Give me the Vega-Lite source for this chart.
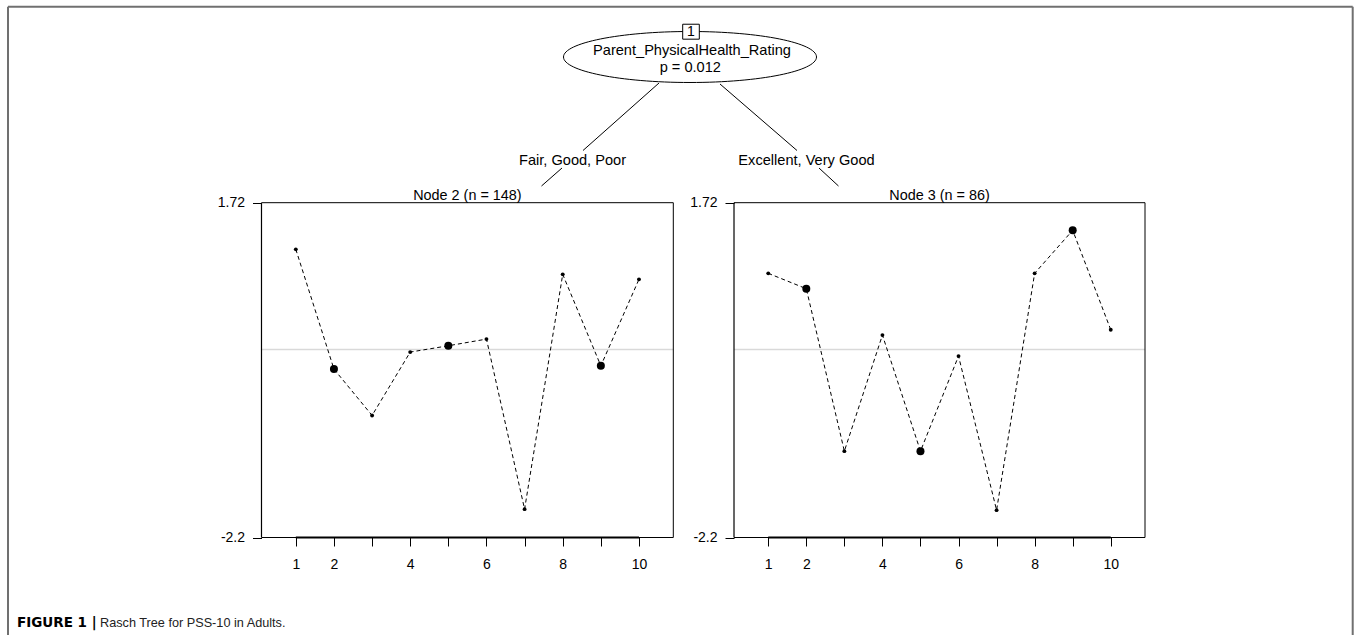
{
  "$schema": "https://vega.github.io/schema/vega-lite/v6.json",
  "width": 1356,
  "height": 635,
  "autosize": {"type": "none"},
  "padding": 0,
  "background": "white",
  "config": {"view": {"stroke": null}, "font": "Liberation Sans"},
  "datasets": {
    "difficulties": [
      {"node": 2, "item": 1, "difficulty": 1.174, "highlight": "no"},
      {"node": 2, "item": 2, "difficulty": -0.228, "highlight": "yes"},
      {"node": 2, "item": 3, "difficulty": -0.771, "highlight": "no"},
      {"node": 2, "item": 4, "difficulty": -0.029, "highlight": "no"},
      {"node": 2, "item": 5, "difficulty": 0.045, "highlight": "yes"},
      {"node": 2, "item": 6, "difficulty": 0.123, "highlight": "no"},
      {"node": 2, "item": 7, "difficulty": -1.868, "highlight": "no"},
      {"node": 2, "item": 8, "difficulty": 0.881, "highlight": "no"},
      {"node": 2, "item": 9, "difficulty": -0.19, "highlight": "yes"},
      {"node": 2, "item": 10, "difficulty": 0.823, "highlight": "no"},
      {"node": 3, "item": 1, "difficulty": 0.893, "highlight": "no"},
      {"node": 3, "item": 2, "difficulty": 0.713, "highlight": "yes"},
      {"node": 3, "item": 3, "difficulty": -1.189, "highlight": "no"},
      {"node": 3, "item": 4, "difficulty": 0.17, "highlight": "no"},
      {"node": 3, "item": 5, "difficulty": -1.189, "highlight": "yes"},
      {"node": 3, "item": 6, "difficulty": -0.076, "highlight": "no"},
      {"node": 3, "item": 7, "difficulty": -1.88, "highlight": "no"},
      {"node": 3, "item": 8, "difficulty": 0.893, "highlight": "no"},
      {"node": 3, "item": 9, "difficulty": 1.397, "highlight": "yes"},
      {"node": 3, "item": 10, "difficulty": 0.232, "highlight": "no"}
    ],
    "nodes": [
      {"node": 2, "label": "Node 2 (n = 148)"},
      {"node": 3, "label": "Node 3 (n = 86)"}
    ],
    "tree": [
      {"part": "id", "text": "1"},
      {"part": "variable", "text": "Parent_PhysicalHealth_Rating"},
      {"part": "pvalue", "text": "p = 0.012"},
      {"part": "leftEdge", "text": "Fair, Good, Poor"},
      {"part": "rightEdge", "text": "Excellent, Very Good"},
      {"part": "captionLabel", "text": "FIGURE 1 |"},
      {"part": "captionText", "text": "Rasch Tree for PSS-10 in Adults."}
    ]
  },
  "layer": [
    {
      "layer": [
        {
          "data": {"name": "nodes"},
          "transform": [{"filter": "datum.node == 2"}],
          "mark": {"type": "rule", "stroke": "#d9d9d9", "strokeWidth": 1.5},
          "encoding": {
            "x": {"datum": 0.1, "type": "quantitative", "scale": {"domain": [0.1, 10.9], "range": [261.5, 673.3], "nice": false, "zero": false}},
            "x2": {"datum": 10.9},
            "y": {"datum": 0, "type": "quantitative", "scale": {"domain": [-2.2, 1.72], "range": [537.5, 202.7], "nice": false, "zero": false}}
          }
        },
        {
          "data": {"name": "nodes"},
          "transform": [{"filter": "datum.node == 2"}],
          "mark": {"type": "rule", "stroke": "black", "strokeWidth": 1},
          "encoding": {
            "x": {"datum": 0.1, "type": "quantitative", "scale": {"domain": [0.1, 10.9], "range": [261.5, 673.3], "nice": false, "zero": false}},
            "x2": {"datum": 10.9},
            "y": {"datum": 1.72, "type": "quantitative", "scale": {"domain": [-2.2, 1.72], "range": [537.5, 202.7], "nice": false, "zero": false}}
          }
        },
        {
          "data": {"name": "nodes"},
          "transform": [{"filter": "datum.node == 2"}],
          "mark": {"type": "rule", "stroke": "black", "strokeWidth": 1},
          "encoding": {
            "x": {"datum": 10.9, "type": "quantitative", "scale": {"domain": [0.1, 10.9], "range": [261.5, 673.3], "nice": false, "zero": false}},
            "y": {"datum": -2.2, "type": "quantitative", "scale": {"domain": [-2.2, 1.72], "range": [537.5, 202.7], "nice": false, "zero": false}},
            "y2": {"datum": 1.72}
          }
        },
        {
          "data": {"name": "nodes"},
          "transform": [{"filter": "datum.node == 2"}],
          "mark": {"type": "rule", "stroke": "black", "strokeWidth": 2},
          "encoding": {
            "x": {"datum": 1, "type": "quantitative", "scale": {"domain": [0.1, 10.9], "range": [261.5, 673.3], "nice": false, "zero": false}},
            "x2": {"datum": 10},
            "y": {"datum": -2.2, "type": "quantitative", "scale": {"domain": [-2.2, 1.72], "range": [537.5, 202.7], "nice": false, "zero": false}}
          }
        },
        {
          "data": {"name": "difficulties"},
          "transform": [{"filter": "datum.node == 2"}],
          "mark": {"type": "line", "stroke": "black", "strokeWidth": 1, "strokeDash": [4, 3]},
          "encoding": {
            "x": {"field": "item", "type": "quantitative", "scale": {"domain": [0.1, 10.9], "range": [261.5, 673.3], "nice": false, "zero": false},
              "axis": {"orient": "bottom", "offset": -97.5, "values": [1, 2, 3, 4, 5, 6, 7, 8, 9, 10], "format": "d", "labelExpr": "indexof([1,2,4,6,8,10], datum.value) >= 0 ? format(datum.value, 'd') : ''", "domain": false, "grid": false, "ticks": true, "tickSize": 8.5, "tickColor": "black", "tickWidth": 1, "labelFontSize": 14, "labelColor": "black", "labelPadding": 11, "labelFlush": false, "labelOverlap": false, "labelFont": "Liberation Sans", "title": null}},
            "y": {"field": "difficulty", "type": "quantitative", "scale": {"domain": [-2.2, 1.72], "range": [537.5, 202.7], "nice": false, "zero": false},
              "axis": {"orient": "left", "offset": -261.5, "values": [-2.2, 1.72], "labelExpr": "replace(format(datum.value, '.2~f'), '\u2212', '-')", "domain": false, "grid": false, "ticks": true, "tickSize": 9, "tickColor": "black", "tickWidth": 1, "labelFontSize": 14, "labelColor": "black", "labelPadding": 8, "labelFlush": false, "labelOverlap": false, "labelFont": "Liberation Sans", "title": null}},
            "order": {"field": "item", "type": "quantitative"}
          }
        },
        {
          "data": {"name": "difficulties"},
          "transform": [{"filter": "datum.node == 2"}],
          "mark": {"type": "circle", "color": "black", "opacity": 1},
          "encoding": {
            "x": {"field": "item", "type": "quantitative", "scale": {"domain": [0.1, 10.9], "range": [261.5, 673.3], "nice": false, "zero": false}},
            "y": {"field": "difficulty", "type": "quantitative", "scale": {"domain": [-2.2, 1.72], "range": [537.5, 202.7], "nice": false, "zero": false}},
            "size": {"field": "highlight", "type": "ordinal", "scale": {"domain": ["no", "yes"], "range": [15, 64]}, "legend": null}
          }
        },
        {
          "data": {"name": "nodes"},
          "transform": [{"filter": "datum.node == 2"}],
          "mark": {"type": "text", "fontSize": 14.4, "align": "center", "baseline": "alphabetic", "color": "black"},
          "encoding": {
            "x": {"datum": 5.5, "type": "quantitative", "scale": {"domain": [0.1, 10.9], "range": [261.5, 673.3], "nice": false, "zero": false}},
            "y": {"datum": 1.752, "type": "quantitative", "scale": {"domain": [-2.2, 1.72], "range": [537.5, 202.7], "nice": false, "zero": false}},
            "text": {"field": "label"}
          }
        }
      ]
    },
    {
      "layer": [
        {
          "data": {"name": "nodes"},
          "transform": [{"filter": "datum.node == 3"}],
          "mark": {"type": "rule", "stroke": "#d9d9d9", "strokeWidth": 1.5},
          "encoding": {
            "x": {"datum": 0.1, "type": "quantitative", "scale": {"domain": [0.1, 10.9], "range": [734, 1145], "nice": false, "zero": false}},
            "x2": {"datum": 10.9},
            "y": {"datum": 0, "type": "quantitative", "scale": {"domain": [-2.2, 1.72], "range": [537.5, 202.7], "nice": false, "zero": false}}
          }
        },
        {
          "data": {"name": "nodes"},
          "transform": [{"filter": "datum.node == 3"}],
          "mark": {"type": "rule", "stroke": "black", "strokeWidth": 1},
          "encoding": {
            "x": {"datum": 0.1, "type": "quantitative", "scale": {"domain": [0.1, 10.9], "range": [734, 1145], "nice": false, "zero": false}},
            "x2": {"datum": 10.9},
            "y": {"datum": 1.72, "type": "quantitative", "scale": {"domain": [-2.2, 1.72], "range": [537.5, 202.7], "nice": false, "zero": false}}
          }
        },
        {
          "data": {"name": "nodes"},
          "transform": [{"filter": "datum.node == 3"}],
          "mark": {"type": "rule", "stroke": "black", "strokeWidth": 1},
          "encoding": {
            "x": {"datum": 10.9, "type": "quantitative", "scale": {"domain": [0.1, 10.9], "range": [734, 1145], "nice": false, "zero": false}},
            "y": {"datum": -2.2, "type": "quantitative", "scale": {"domain": [-2.2, 1.72], "range": [537.5, 202.7], "nice": false, "zero": false}},
            "y2": {"datum": 1.72}
          }
        },
        {
          "data": {"name": "nodes"},
          "transform": [{"filter": "datum.node == 3"}],
          "mark": {"type": "rule", "stroke": "black", "strokeWidth": 2},
          "encoding": {
            "x": {"datum": 1, "type": "quantitative", "scale": {"domain": [0.1, 10.9], "range": [734, 1145], "nice": false, "zero": false}},
            "x2": {"datum": 10},
            "y": {"datum": -2.2, "type": "quantitative", "scale": {"domain": [-2.2, 1.72], "range": [537.5, 202.7], "nice": false, "zero": false}}
          }
        },
        {
          "data": {"name": "difficulties"},
          "transform": [{"filter": "datum.node == 3"}],
          "mark": {"type": "line", "stroke": "black", "strokeWidth": 1, "strokeDash": [4, 3]},
          "encoding": {
            "x": {"field": "item", "type": "quantitative", "scale": {"domain": [0.1, 10.9], "range": [734, 1145], "nice": false, "zero": false},
              "axis": {"orient": "bottom", "offset": -97.5, "values": [1, 2, 3, 4, 5, 6, 7, 8, 9, 10], "format": "d", "labelExpr": "indexof([1,2,4,6,8,10], datum.value) >= 0 ? format(datum.value, 'd') : ''", "domain": false, "grid": false, "ticks": true, "tickSize": 8.5, "tickColor": "black", "tickWidth": 1, "labelFontSize": 14, "labelColor": "black", "labelPadding": 11, "labelFlush": false, "labelOverlap": false, "labelFont": "Liberation Sans", "title": null}},
            "y": {"field": "difficulty", "type": "quantitative", "scale": {"domain": [-2.2, 1.72], "range": [537.5, 202.7], "nice": false, "zero": false},
              "axis": {"orient": "left", "offset": -734, "values": [-2.2, 1.72], "labelExpr": "replace(format(datum.value, '.2~f'), '\u2212', '-')", "domain": false, "grid": false, "ticks": true, "tickSize": 9, "tickColor": "black", "tickWidth": 1, "labelFontSize": 14, "labelColor": "black", "labelPadding": 8, "labelFlush": false, "labelOverlap": false, "labelFont": "Liberation Sans", "title": null}},
            "order": {"field": "item", "type": "quantitative"}
          }
        },
        {
          "data": {"name": "difficulties"},
          "transform": [{"filter": "datum.node == 3"}],
          "mark": {"type": "circle", "color": "black", "opacity": 1},
          "encoding": {
            "x": {"field": "item", "type": "quantitative", "scale": {"domain": [0.1, 10.9], "range": [734, 1145], "nice": false, "zero": false}},
            "y": {"field": "difficulty", "type": "quantitative", "scale": {"domain": [-2.2, 1.72], "range": [537.5, 202.7], "nice": false, "zero": false}},
            "size": {"field": "highlight", "type": "ordinal", "scale": {"domain": ["no", "yes"], "range": [15, 64]}, "legend": null}
          }
        },
        {
          "data": {"name": "nodes"},
          "transform": [{"filter": "datum.node == 3"}],
          "mark": {"type": "text", "fontSize": 14.4, "align": "center", "baseline": "alphabetic", "color": "black"},
          "encoding": {
            "x": {"datum": 5.5, "type": "quantitative", "scale": {"domain": [0.1, 10.9], "range": [734, 1145], "nice": false, "zero": false}},
            "y": {"datum": 1.752, "type": "quantitative", "scale": {"domain": [-2.2, 1.72], "range": [537.5, 202.7], "nice": false, "zero": false}},
            "text": {"field": "label"}
          }
        }
      ]
    },
    {
      "data": {"name": "tree"},
      "layer": [
        {
          "transform": [{"filter": "datum.part == 'id'"}],
          "mark": {"type": "rule", "stroke": "#707070", "strokeWidth": 2},
          "encoding": {
            "x": {"datum": 0.59, "type": "quantitative", "scale": {"domain": [0, 100], "range": [0, 1356], "nice": false, "zero": false}, "axis": null},
            "x2": {"datum": 99.757},
            "y": {"datum": 1.055, "type": "quantitative", "scale": {"domain": [0, 100], "range": [0, 635], "nice": false, "zero": false}, "axis": null}
          }
        },
        {
          "transform": [{"filter": "datum.part == 'id'"}],
          "mark": {"type": "rule", "stroke": "#707070", "strokeWidth": 2},
          "encoding": {
            "x": {"datum": 0.59, "type": "quantitative", "scale": {"domain": [0, 100], "range": [0, 1356], "nice": false, "zero": false}, "axis": null},
            "y": {"datum": 1.055, "type": "quantitative", "scale": {"domain": [0, 100], "range": [0, 635], "nice": false, "zero": false}, "axis": null},
            "y2": {"datum": 100}
          }
        },
        {
          "transform": [{"filter": "datum.part == 'id'"}],
          "mark": {"type": "rule", "stroke": "#707070", "strokeWidth": 2},
          "encoding": {
            "x": {"datum": 99.757, "type": "quantitative", "scale": {"domain": [0, 100], "range": [0, 1356], "nice": false, "zero": false}, "axis": null},
            "y": {"datum": 1.055, "type": "quantitative", "scale": {"domain": [0, 100], "range": [0, 635], "nice": false, "zero": false}, "axis": null},
            "y2": {"datum": 100}
          }
        },
        {
          "transform": [{"filter": "datum.part == 'id'"}],
          "mark": {"type": "rule", "stroke": "black", "strokeWidth": 1.2},
          "encoding": {
            "x": {"datum": 19.284, "type": "quantitative", "scale": {"domain": [0, 100], "range": [0, 1356], "nice": false, "zero": false}, "axis": null},
            "y": {"datum": 31.921, "type": "quantitative", "scale": {"domain": [0, 100], "range": [0, 635], "nice": false, "zero": false}, "axis": null},
            "y2": {"datum": 84.646}
          }
        },
        {
          "transform": [{"filter": "datum.part == 'id'"}],
          "mark": {"type": "rule", "stroke": "black", "strokeWidth": 1.2},
          "encoding": {
            "x": {"datum": 19.284, "type": "quantitative", "scale": {"domain": [0, 100], "range": [0, 1356], "nice": false, "zero": false}, "axis": null},
            "x2": {"datum": 49.653},
            "y": {"datum": 84.646, "type": "quantitative", "scale": {"domain": [0, 100], "range": [0, 635], "nice": false, "zero": false}, "axis": null}
          }
        },
        {
          "transform": [{"filter": "datum.part == 'id'"}],
          "mark": {"type": "rule", "stroke": "black", "strokeWidth": 1.2},
          "encoding": {
            "x": {"datum": 54.13, "type": "quantitative", "scale": {"domain": [0, 100], "range": [0, 1356], "nice": false, "zero": false}, "axis": null},
            "y": {"datum": 31.921, "type": "quantitative", "scale": {"domain": [0, 100], "range": [0, 635], "nice": false, "zero": false}, "axis": null},
            "y2": {"datum": 84.646}
          }
        },
        {
          "transform": [{"filter": "datum.part == 'id'"}],
          "mark": {"type": "rule", "stroke": "black", "strokeWidth": 1.2},
          "encoding": {
            "x": {"datum": 54.13, "type": "quantitative", "scale": {"domain": [0, 100], "range": [0, 1356], "nice": false, "zero": false}, "axis": null},
            "x2": {"datum": 84.44},
            "y": {"datum": 84.646, "type": "quantitative", "scale": {"domain": [0, 100], "range": [0, 635], "nice": false, "zero": false}, "axis": null}
          }
        },
        {
          "transform": [{"filter": "datum.part == 'leftEdge'"}],
          "mark": {"type": "rule", "stroke": "black", "strokeWidth": 1},
          "encoding": {
            "x": {"datum": 48.599, "type": "quantitative", "scale": {"domain": [0, 100], "range": [0, 1356], "nice": false, "zero": false}, "axis": null},
            "y": {"datum": 13.071, "type": "quantitative", "scale": {"domain": [0, 100], "range": [0, 635], "nice": false, "zero": false}, "axis": null},
            "x2": {"datum": 42.994},
            "y2": {"datum": 23.701}
          }
        },
        {
          "transform": [{"filter": "datum.part == 'leftEdge'"}],
          "mark": {"type": "rule", "stroke": "black", "strokeWidth": 1},
          "encoding": {
            "x": {"datum": 41.445, "type": "quantitative", "scale": {"domain": [0, 100], "range": [0, 1356], "nice": false, "zero": false}, "axis": null},
            "y": {"datum": 26.457, "type": "quantitative", "scale": {"domain": [0, 100], "range": [0, 635], "nice": false, "zero": false}, "axis": null},
            "x2": {"datum": 39.934},
            "y2": {"datum": 29.291}
          }
        },
        {
          "transform": [{"filter": "datum.part == 'rightEdge'"}],
          "mark": {"type": "rule", "stroke": "black", "strokeWidth": 1},
          "encoding": {
            "x": {"datum": 53.097, "type": "quantitative", "scale": {"domain": [0, 100], "range": [0, 1356], "nice": false, "zero": false}, "axis": null},
            "y": {"datum": 13.228, "type": "quantitative", "scale": {"domain": [0, 100], "range": [0, 635], "nice": false, "zero": false}, "axis": null},
            "x2": {"datum": 58.776},
            "y2": {"datum": 23.701}
          }
        },
        {
          "transform": [{"filter": "datum.part == 'rightEdge'"}],
          "mark": {"type": "rule", "stroke": "black", "strokeWidth": 1},
          "encoding": {
            "x": {"datum": 60.398, "type": "quantitative", "scale": {"domain": [0, 100], "range": [0, 1356], "nice": false, "zero": false}, "axis": null},
            "y": {"datum": 26.457, "type": "quantitative", "scale": {"domain": [0, 100], "range": [0, 635], "nice": false, "zero": false}, "axis": null},
            "x2": {"datum": 61.836},
            "y2": {"datum": 29.291}
          }
        },
        {
          "transform": [{"filter": "datum.part == 'variable'"}],
          "mark": {"type": "point", "shape": "M-1,0C-1,-0.1113,-0.5523,-0.2016,0,-0.2016C0.5523,-0.2016,1,-0.1113,1,0C1,0.1113,0.5523,0.2016,0,0.2016C-0.5523,0.2016,-1,0.1113,-1,0Z", "size": 64009, "filled": true, "fill": "white", "stroke": "black", "strokeWidth": 1, "opacity": 1},
          "encoding": {
            "x": {"datum": 50.885, "type": "quantitative", "scale": {"domain": [0, 100], "range": [0, 1356], "nice": false, "zero": false}, "axis": null},
            "y": {"datum": 8.976, "type": "quantitative", "scale": {"domain": [0, 100], "range": [0, 635], "nice": false, "zero": false}, "axis": null}
          }
        },
        {
          "transform": [{"filter": "datum.part == 'id'"}],
          "mark": {"type": "point", "shape": "M-1,-0.9L1,-0.9L1,0.9L-1,0.9Z", "size": 276, "filled": true, "fill": "white", "stroke": "black", "strokeWidth": 1, "opacity": 1},
          "encoding": {
            "x": {"datum": 50.959, "type": "quantitative", "scale": {"domain": [0, 100], "range": [0, 1356], "nice": false, "zero": false}, "axis": null},
            "y": {"datum": 4.992, "type": "quantitative", "scale": {"domain": [0, 100], "range": [0, 635], "nice": false, "zero": false}, "axis": null}
          }
        },
        {
          "transform": [{"filter": "datum.part == 'id'"}],
          "mark": {"type": "text", "fontSize": 14, "align": "center", "baseline": "alphabetic", "color": "black"},
          "encoding": {
            "x": {"datum": 50.959, "type": "quantitative", "scale": {"domain": [0, 100], "range": [0, 1356], "nice": false, "zero": false}, "axis": null},
            "y": {"datum": 5.748, "type": "quantitative", "scale": {"domain": [0, 100], "range": [0, 635], "nice": false, "zero": false}, "axis": null},
            "text": {"field": "text"}
          }
        },
        {
          "transform": [{"filter": "datum.part == 'variable'"}],
          "mark": {"type": "text", "fontSize": 14.6, "align": "center", "baseline": "alphabetic", "color": "black"},
          "encoding": {
            "x": {"datum": 51.032, "type": "quantitative", "scale": {"domain": [0, 100], "range": [0, 1356], "nice": false, "zero": false}, "axis": null},
            "y": {"datum": 8.583, "type": "quantitative", "scale": {"domain": [0, 100], "range": [0, 635], "nice": false, "zero": false}, "axis": null},
            "text": {"field": "text"}
          }
        },
        {
          "transform": [{"filter": "datum.part == 'pvalue'"}],
          "mark": {"type": "text", "fontSize": 14.6, "align": "center", "baseline": "alphabetic", "color": "black"},
          "encoding": {
            "x": {"datum": 50.907, "type": "quantitative", "scale": {"domain": [0, 100], "range": [0, 1356], "nice": false, "zero": false}, "axis": null},
            "y": {"datum": 11.291, "type": "quantitative", "scale": {"domain": [0, 100], "range": [0, 635], "nice": false, "zero": false}, "axis": null},
            "text": {"field": "text"}
          }
        },
        {
          "transform": [{"filter": "datum.part == 'leftEdge'"}],
          "mark": {"type": "text", "fontSize": 14.6, "align": "center", "baseline": "alphabetic", "color": "black"},
          "encoding": {
            "x": {"datum": 42.22, "type": "quantitative", "scale": {"domain": [0, 100], "range": [0, 1356], "nice": false, "zero": false}, "axis": null},
            "y": {"datum": 25.984, "type": "quantitative", "scale": {"domain": [0, 100], "range": [0, 635], "nice": false, "zero": false}, "axis": null},
            "text": {"field": "text"}
          }
        },
        {
          "transform": [{"filter": "datum.part == 'rightEdge'"}],
          "mark": {"type": "text", "fontSize": 14.6, "align": "center", "baseline": "alphabetic", "color": "black"},
          "encoding": {
            "x": {"datum": 59.476, "type": "quantitative", "scale": {"domain": [0, 100], "range": [0, 1356], "nice": false, "zero": false}, "axis": null},
            "y": {"datum": 25.984, "type": "quantitative", "scale": {"domain": [0, 100], "range": [0, 635], "nice": false, "zero": false}, "axis": null},
            "text": {"field": "text"}
          }
        },
        {
          "transform": [{"filter": "datum.part == 'captionLabel'"}],
          "mark": {"type": "text", "font": "DejaVu Sans", "fontSize": 13.5, "fontWeight": "bold", "align": "left", "baseline": "alphabetic", "color": "black"},
          "encoding": {
            "x": {"datum": 1.254, "type": "quantitative", "scale": {"domain": [0, 100], "range": [0, 1356], "nice": false, "zero": false}, "axis": null},
            "y": {"datum": 98.693, "type": "quantitative", "scale": {"domain": [0, 100], "range": [0, 635], "nice": false, "zero": false}, "axis": null},
            "text": {"field": "text"}
          }
        },
        {
          "transform": [{"filter": "datum.part == 'captionText'"}],
          "mark": {"type": "text", "fontSize": 12.7, "align": "left", "baseline": "alphabetic", "color": "#222222"},
          "encoding": {
            "x": {"datum": 7.375, "type": "quantitative", "scale": {"domain": [0, 100], "range": [0, 1356], "nice": false, "zero": false}, "axis": null},
            "y": {"datum": 98.693, "type": "quantitative", "scale": {"domain": [0, 100], "range": [0, 635], "nice": false, "zero": false}, "axis": null},
            "text": {"field": "text"}
          }
        }
      ]
    }
  ],
  "resolve": {
    "scale": {"x": "independent", "y": "independent", "size": "independent"},
    "axis": {"x": "independent", "y": "independent"}
  }
}
